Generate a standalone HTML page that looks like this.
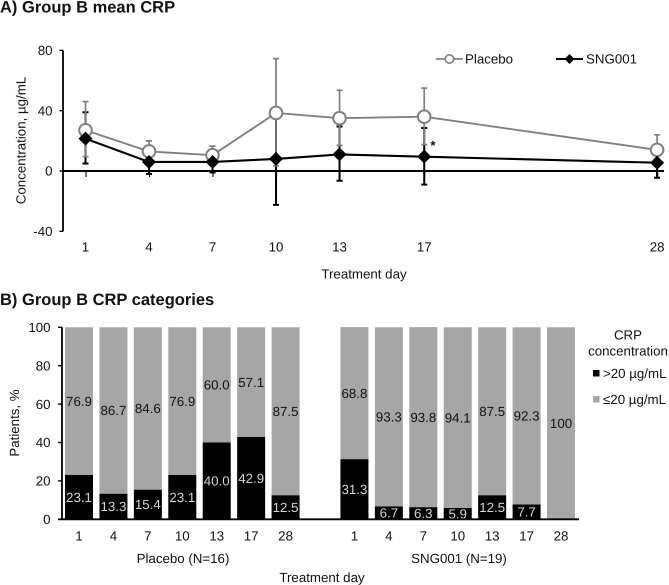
<!DOCTYPE html>
<html lang="en">
<head>
<meta charset="utf-8">
<title>Group B CRP</title>
<style>
html,body{margin:0;padding:0;background:#fff;}
svg{display:block;}
text{font-family:"Liberation Sans",Arial,sans-serif;font-size:13.3px;fill:#111;text-rendering:geometricPrecision;}
.title{font-weight:bold;font-size:16.5px;}
</style>
</head>
<body>
<svg id="chart" xmlns="http://www.w3.org/2000/svg" width="669" height="585" viewBox="0 0 669 585">
  <text class="title" x="0" y="12.5">A) Group B mean CRP</text>
  <text class="title" x="0" y="305">B) Group B CRP categories</text>
  <g id="panelA"></g>
  <g id="panelB"></g>

  <text x="364" y="278.5" text-anchor="middle">Treatment day</text>
  <text transform="translate(25.5,140.5) rotate(-90)" text-anchor="middle">Concentration, µg/mL</text>
  <text x="433" y="150" text-anchor="middle" font-weight="bold">*</text>

  <g>
    <line x1="436" y1="59" x2="463" y2="59" stroke="#808080" stroke-width="1.8"/>
    <circle cx="449.5" cy="59" r="4.2" fill="#fff" stroke="#808080" stroke-width="1.6"/>
    <text x="465" y="63.5">Placebo</text>
  </g>
  <g>
    <line x1="556" y1="59" x2="583" y2="59" stroke="#000" stroke-width="2"/>
    <polygon points="569.5,54 574.5,59 569.5,64 564.5,59" fill="#000"/>
    <text x="586" y="63.5">SNG001</text>
  </g>

  <text x="183" y="563" text-anchor="middle">Placebo (N=16)</text>
  <text x="459" y="563" text-anchor="middle">SNG001 (N=19)</text>
  <text x="322" y="582" text-anchor="middle">Treatment day</text>
  <text transform="translate(19,423) rotate(-90)" text-anchor="middle">Patients, %</text>

  <g>
    <text x="628" y="339.5" text-anchor="middle">CRP</text>
    <text x="628" y="355.5" text-anchor="middle">concentration</text>
    <rect x="593" y="370" width="6.5" height="6.5" fill="#000"/>
    <text x="603" y="378">&gt;20 µg/mL</text>
    <rect x="593" y="396" width="6.5" height="6.5" fill="#a6a6a6"/>
    <text x="603" y="404">≤20 µg/mL</text>
  </g>
</svg>
<script>
var lineDays = [1, 4, 7, 10, 13, 17, 28];
var lineTicks = [-40, 0, 40, 80];
var placeboMean = [27, 13, 10.5, 38.5, 35, 36, 14];
var placeboUpper = [46, 20, 16.5, 74.5, 53.5, 55, 24];
var placeboLower = [9.5, 5, 4, 3.5, 17, 17.5, 5];
var sngMean = [21.5, 6, 6, 8, 11, 9.5, 5.5];
var sngUpper = [39, 14, 13, 38, 29.5, 28.5, 15];
var sngLower = [5, -2, -1, -22.5, -6.5, -9, -4.5];

var barDays = [1, 4, 7, 10, 13, 17, 28];
var barTicks = [0, 20, 40, 60, 80, 100];
var placeboHigh = [23.1, 13.3, 15.4, 23.1, 40.0, 42.9, 12.5];
var placeboLow = [76.9, 86.7, 84.6, 76.9, 60.0, 57.1, 87.5];
var sngHigh = [31.3, 6.7, 6.3, 5.9, 12.5, 7.7, 0];
var sngLow = [68.8, 93.3, 93.8, 94.1, 87.5, 92.3, 100];

var NS = 'http://www.w3.org/2000/svg';
function make(parent, tag, props, text) {
  var node = document.createElementNS(NS, tag);
  for (var key in props) { node.setAttribute(key, props[key]); }
  if (text !== undefined) { node.textContent = text; }
  parent.appendChild(node);
  return node;
}

/* Panel A axis functions */
function xDay(d) { return 85.5 + (d - 1) * 21.17; }
function yConc(v) { return 171 - v * 1.508; }

/* Panel B axis functions */
function xSlot(i) { return 79 + i * 34.43; }
function yPct(v) { return 519.3 - v * 1.92; }
function pctLabel(v) { return v === 100 ? '100' : v.toFixed(1); }

var panelA = document.getElementById('panelA');
var panelB = document.getElementById('panelB');

function drawErrorBars(name, color, width, means, uppers, lowers) {
  var g = make(panelA, 'g', {});
  
  
  lineDays.forEach(function (d, i) {
    var x = xDay(d);
    var bar = make(g, 'path', {
      d: 'M' + (x - 3) + ' ' + yConc(uppers[i]) + 'H' + (x + 3) +
         'M' + x + ' ' + yConc(uppers[i]) + 'V' + yConc(lowers[i]) +
         'M' + (x - 3) + ' ' + yConc(lowers[i]) + 'H' + (x + 3),
      fill: 'none', stroke: color, 'stroke-width': width
    });
    
    
  });
}

function drawSeriesLine(name, color, width, means) {
  var pts = lineDays.map(function (d, i) { return xDay(d) + ',' + yConc(means[i]); }).join(' ');
  var line = make(panelA, 'polyline', { points: pts, fill: 'none', stroke: color, 'stroke-width': width });
  
  
}

/* Panel A axes */
var axisA = make(panelA, 'g', {});


make(axisA, 'line', { x1: 63, x2: 63, y1: yConc(80), y2: yConc(-40), stroke: '#000', 'stroke-width': 1.8 });
lineTicks.forEach(function (t) {
  make(axisA, 'line', { x1: 59.5, x2: 63, y1: yConc(t), y2: yConc(t), stroke: '#000', 'stroke-width': 1.4 });
  var label = make(axisA, 'text', { x: 52.5, y: yConc(t) + 4.7, 'text-anchor': 'end' }, String(t));
  
  
});
var xAxisA = make(panelA, 'g', {});


make(xAxisA, 'line', { x1: 63, x2: 664, y1: yConc(0), y2: yConc(0), stroke: '#000', 'stroke-width': 1.9 });
lineDays.forEach(function (d) {
  make(xAxisA, 'line', { x1: xDay(d) + 0.5, x2: xDay(d) + 0.5, y1: yConc(0), y2: yConc(0) + 6, stroke: '#000', 'stroke-width': 1.1 });
  var label = make(xAxisA, 'text', { x: xDay(d), y: 251.5, 'text-anchor': 'middle' }, String(d));
  
  
});

/* Panel A series */
drawErrorBars('sng001-error-bars', '#000', 2, sngMean, sngUpper, sngLower);
drawErrorBars('placebo-error-bars', '#808080', 1.7, placeboMean, placeboUpper, placeboLower);
drawSeriesLine('placebo-line', '#808080', 1.9, placeboMean);
lineDays.forEach(function (d, i) {
  var dot = make(panelA, 'circle', { cx: xDay(d), cy: yConc(placeboMean[i]), r: 6.3, fill: '#fff', stroke: '#808080', 'stroke-width': 2 });
  
  
});
drawSeriesLine('sng001-line', '#000', 2.1, sngMean);
lineDays.forEach(function (d, i) {
  var x = xDay(d);
  var y = yConc(sngMean[i]);
  var mark = make(panelA, 'polygon', {
    points: x + ',' + (y - 7) + ' ' + (x + 7) + ',' + y + ' ' + x + ',' + (y + 7) + ' ' + (x - 7) + ',' + y,
    fill: '#000'
  });
  
  
});

/* Panel B bars */
function drawGroup(highs, lows, startSlot, name) {
  var g = make(panelB, 'g', {});
  
  
  barDays.forEach(function (d, i) {
    var cx = xSlot(startSlot + i);
    var low = make(g, 'rect', {
      x: cx - 14, width: 28,
      y: yPct(highs[i] + lows[i]), height: yPct(highs[i]) - yPct(highs[i] + lows[i]),
      fill: '#a6a6a6'
    });
    
    
    var high = make(g, 'rect', {
      x: cx - 14, width: 28,
      y: yPct(highs[i]), height: yPct(0) - yPct(highs[i]),
      fill: '#000'
    });
    
    
    var lowLabel = make(g, 'text', {
      x: cx, y: yPct(highs[i] + lows[i] / 2) + 4.7, 'text-anchor': 'middle'
    }, pctLabel(lows[i]));
    
    
    if (highs[i] > 0) {
      var highLabel = make(g, 'text', {
        x: cx, y: yPct(highs[i] / 2) + 4.7, 'text-anchor': 'middle', style: 'fill:#d4d4d4'
      }, pctLabel(highs[i]));
      
      
    }
    var tick = make(g, 'text', { x: cx, y: 540.5, 'text-anchor': 'middle' }, String(d));
    
    
  });
}
drawGroup(placeboHigh, placeboLow, 0, 'placebo-bars');
drawGroup(sngHigh, sngLow, 8, 'sng001-bars');

/* Panel B axes */
var axisB = make(panelB, 'g', {});


make(axisB, 'line', { x1: 62, x2: 62, y1: yPct(100), y2: yPct(0), stroke: '#000', 'stroke-width': 1.8 });
barTicks.forEach(function (t) {
  make(axisB, 'line', { x1: 58, x2: 62, y1: yPct(t), y2: yPct(t), stroke: '#000', 'stroke-width': 1.4 });
  var label = make(axisB, 'text', { x: 50.5, y: yPct(t) + 4.7, 'text-anchor': 'end' }, String(t));
  
  
});
var baseline = make(panelB, 'line', { x1: 58, x2: 579, y1: yPct(0), y2: yPct(0), stroke: '#000', 'stroke-width': 1.8 });


</script>
</body>
</html>
